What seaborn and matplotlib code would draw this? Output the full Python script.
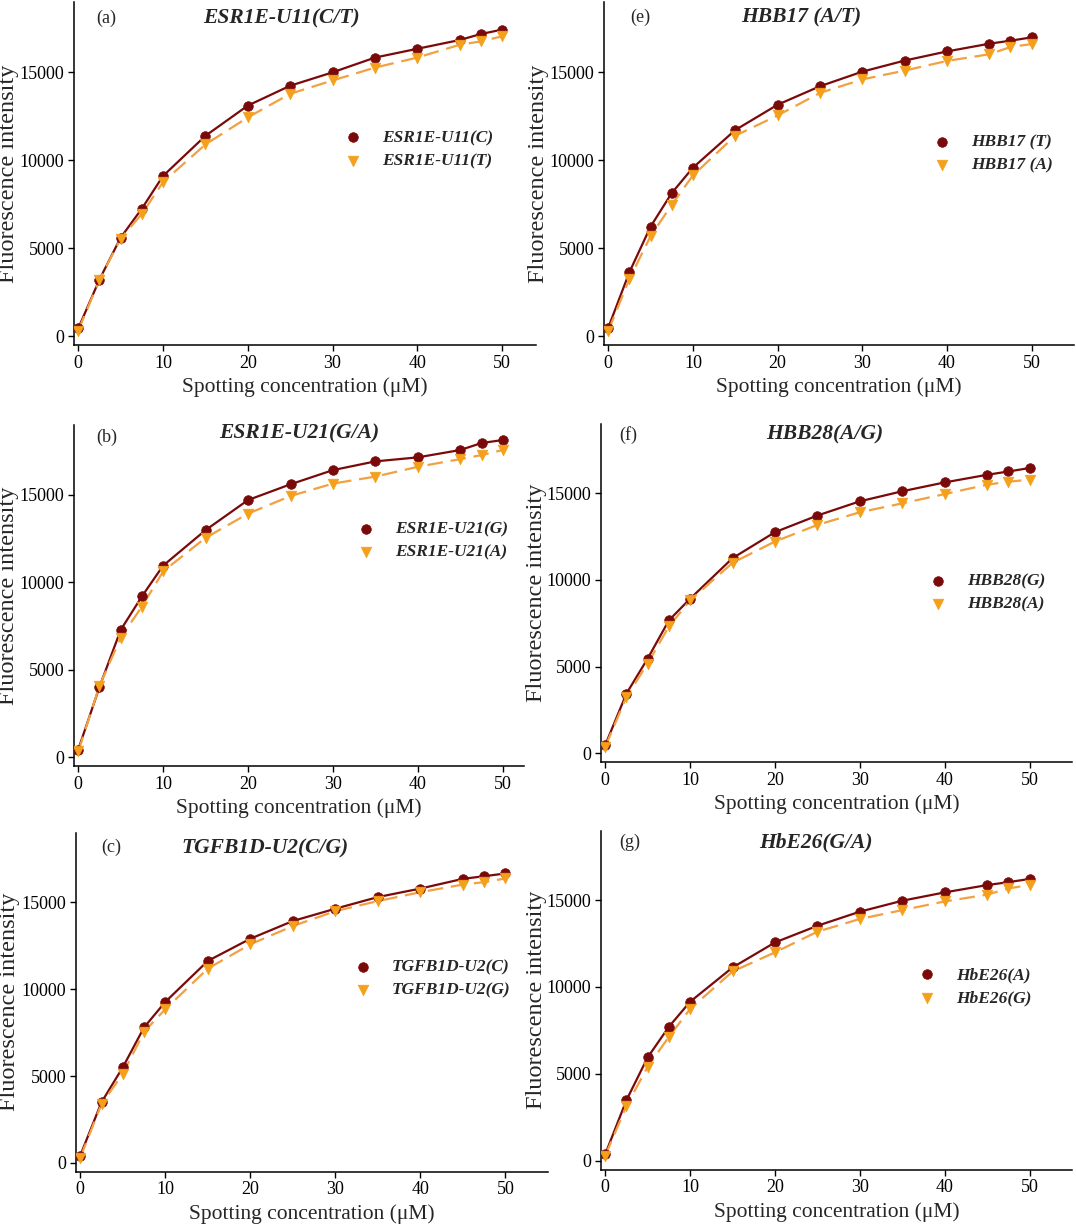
import matplotlib
matplotlib.use("Agg")
import matplotlib.pyplot as plt
import pandas as pd
import seaborn as sns

# ---------------- data ----------------
conc = [0, 2.5, 5, 7.5, 10, 15, 20, 25, 30, 35, 40, 45, 47.5, 50]

letters = ["(a)", "(b)", "(c)", "(e)", "(f)", "(g)"]
titles = ["ESR1E-U11(C/T)", "ESR1E-U21(G/A)", "TGFB1D-U2(C/G)",
          "HBB17 (A/T)", "HBB28(A/G)", "HbE26(G/A)"]
labels_1 = ["ESR1E-U11(C)", "ESR1E-U21(G)", "TGFB1D-U2(C)",
            "HBB17 (T)", "HBB28(G)", "HbE26(A)"]
labels_2 = ["ESR1E-U11(T)", "ESR1E-U21(A)", "TGFB1D-U2(G)",
            "HBB17 (A)", "HBB28(A)", "HbE26(G)"]

a_s1 = [440, 3220, 5600, 7250, 9110, 11390, 13110, 14240, 15000, 15840, 16340, 16840, 17180, 17430]
a_s2 = [320, 3200, 5550, 6950, 8760, 10900, 12440, 13780, 14540, 15270, 15840, 16570, 16760, 17050]
b_s1 = [440, 4020, 7280, 9200, 10960, 12990, 14710, 15610, 16420, 16920, 17150, 17570, 17970, 18140]
b_s2 = [330, 4080, 6840, 8620, 10630, 12550, 13930, 14940, 15650, 16050, 16610, 17050, 17280, 17570]
c_s1 = [420, 3490, 5500, 7800, 9270, 11630, 12910, 13930, 14640, 15310, 15800, 16360, 16510, 16670]
c_s2 = [290, 3390, 5120, 7550, 8850, 11190, 12590, 13640, 14500, 15080, 15590, 16030, 16170, 16380]
e_s1 = [480, 3640, 6230, 8140, 9580, 11720, 13160, 14210, 15040, 15670, 16190, 16630, 16800, 16990]
e_s2 = [290, 3260, 5690, 7470, 9140, 11400, 12550, 13830, 14600, 15100, 15650, 16030, 16440, 16610]
f_s1 = [480, 3450, 5470, 7670, 8920, 11260, 12760, 13720, 14540, 15120, 15630, 16070, 16260, 16460]
f_s2 = [380, 3260, 5180, 7330, 8820, 10990, 12220, 13180, 13910, 14420, 14960, 15500, 15670, 15790]
g_s1 = [380, 3490, 5950, 7710, 9150, 11120, 12560, 13520, 14330, 14960, 15440, 15860, 16030, 16210]
g_s2 = [290, 3160, 5410, 7130, 8730, 10890, 11990, 13180, 13910, 14420, 14920, 15310, 15670, 15860]

series_1 = [a_s1, b_s1, c_s1, e_s1, f_s1, g_s1]
series_2 = [a_s2, b_s2, c_s2, e_s2, f_s2, g_s2]
yticks = [0, 5000, 10000, 15000]
xticks = [0, 10, 20, 30, 40, 50]

# ---------------- layout / style ----------------
W, H = 1076, 1224
# (left, right, top, bottom) in pixels
boxes = [(74, 536, 2, 345), (74, 524, 425, 766), (76, 548, 833, 1171.5),
         (604, 1074, 2, 345), (601, 1072, 424, 762), (601, 1072, 830.5, 1169.5)]
xmax = [54, 52.5, 55, 55, 55, 55]
title_pos = [(0.45, 0.953), (0.50, 0.975), (0.40, 0.953),
             (0.42, 0.955), (0.475, 0.968), (0.456, 0.965)]
letter_pos = [(0.07, 0.953), (0.073, 0.965), (0.074, 0.958),
              (0.077, 0.955), (0.058, 0.966), (0.062, 0.965)]
legend_pos = [(0.558, 0.57), (0.601, 0.66), (0.563, 0.57),
              (0.673, 0.557), (0.670, 0.50), (0.647, 0.54)]
ylabel_right_px = [19, 19, 20, 549, 547, 547]

c1 = "#7a0a0a"
c2 = "#f5a01a"
c2_line = "#f2a040"

sns.set_theme(style="ticks")
plt.rcParams["font.family"] = ["Liberation Serif", "DejaVu Serif"]
plt.rcParams["mathtext.fontset"] = "stix"

fig = plt.figure(figsize=(W / 100, H / 100), dpi=100)
fig.patch.set_facecolor("white")

for i in range(6):
    l, r, t, b = boxes[i]
    ax = fig.add_axes([l / W, 1 - b / H, (r - l) / W, (b - t) / H])
    df = pd.DataFrame({"x": conc, "y1": series_1[i], "y2": series_2[i]})

    sns.lineplot(data=df, x="x", y="y1", ax=ax, color=c1, lw=1.6, zorder=2)
    sns.lineplot(data=df, x="x", y="y2", ax=ax, color=c2_line, lw=1.6,
                 dashes=False, zorder=3)
    ax.lines[-1].set_dashes([7, 3.5])
    sns.scatterplot(data=df, x="x", y="y1", ax=ax, color=c1, marker="o",
                    s=48, edgecolor=c1, linewidth=0.5, zorder=4, label=labels_1[i])
    sns.scatterplot(data=df, x="x", y="y2", ax=ax, color=c2, marker="v",
                    s=58, edgecolor=c2, linewidth=0.5, zorder=5, label=labels_2[i])

    ax.set_xlim(-0.5, xmax[i])
    ax.set_ylim(-500, 19000)
    ax.set_xticks(xticks)
    ax.set_yticks(yticks)
    ax.tick_params(axis="both", labelsize=13, length=4, width=1, colors="black",
                   direction="out", pad=3)
    for s in ["top", "right"]:
        ax.spines[s].set_visible(False)
    for s in ["left", "bottom"]:
        ax.spines[s].set_linewidth(1.1)
        ax.spines[s].set_color("black")
    ax.set_xlabel("Spotting concentration (\u03bcM)", fontsize=15.5, labelpad=4)
    ax.set_ylabel("Fluorescence intensity", fontsize=17.5)
    ax.yaxis.set_label_coords((ylabel_right_px[i] - l) / (r - l), 0.5)

    ax.text(title_pos[i][0], title_pos[i][1], titles[i], transform=ax.transAxes,
            ha="center", va="center", fontsize=15.5, fontweight="bold",
            fontstyle="italic")
    ax.text(letter_pos[i][0], letter_pos[i][1], letters[i], transform=ax.transAxes,
            ha="center", va="center", fontsize=13)

    leg = ax.legend(loc="center left", bbox_to_anchor=legend_pos[i], frameon=False,
                    prop={"size": 12.5, "style": "italic", "weight": "bold"},
                    handletextpad=0.9, labelspacing=0.4, borderpad=0,
                    handlelength=1.5)

fig.savefig("out.png", dpi=100, facecolor="white")
